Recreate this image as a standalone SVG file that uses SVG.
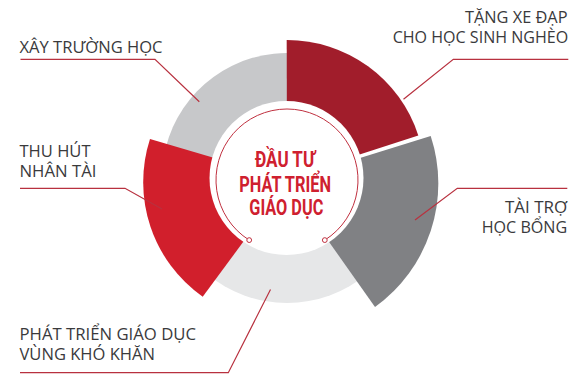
<svg xmlns="http://www.w3.org/2000/svg" width="572" height="374" viewBox="0 0 572 374">
<style>
.lbl{font-family:"Open Sans","Liberation Sans",sans-serif;font-size:16.5px;fill:#3a3a3c}
.ttl{font-family:Roboto,"Liberation Sans",sans-serif;font-size:22px;font-weight:bold;fill:#cf202f}
.ldr{fill:none;stroke:#b8313f;stroke-width:1.2}
</style>
<rect width="572" height="374" fill="#ffffff"/>
<g id="ring">
<g id="seg-xay"><path d="M287 178 L165.7 147.8 A125 125 0 0 1 295.7 53.3 Z" fill="#c7c8ca"/></g>
<g id="seg-vung"><path d="M287 178 L367.3 273.8 A125 125 0 0 1 206.7 273.8 Z" fill="#e6e7e8"/></g>
<g id="seg-tang"><path d="M287 178 L286.7 40 A138 138 0 0 1 418.3 135.4 Z" fill="#a11d2b"/></g>
<g id="seg-taitro"><path d="M286 181 L430.7 136 A152 152 0 0 1 375 307 Z" fill="#808184"/></g>
<g id="seg-thuhut"><path d="M289 180 L202.7 296.7 A140 140 0 0 1 150 139 Z" fill="#d11f2c"/></g>
</g>
<g id="center">
<circle cx="286.5" cy="178" r="77" fill="#ffffff"/>
<path d="M249.2 240.1 A71 71 0 1 1 324.8 240.1" fill="none" stroke="#c0303f" stroke-width="1"/>
<circle cx="249.2" cy="240.1" r="2.4" fill="#ffffff" stroke="#c0303f" stroke-width="1"/>
<circle cx="324.8" cy="240.1" r="2.4" fill="#ffffff" stroke="#c0303f" stroke-width="1"/>
<text class="ttl" x="255" y="166.7" textLength="60" lengthAdjust="spacingAndGlyphs">ĐẦU TƯ</text>
<text class="ttl" x="239.3" y="191.7" textLength="91.7" lengthAdjust="spacingAndGlyphs">PHÁT TRIỂN</text>
<text class="ttl" x="249.3" y="214.5" textLength="74" lengthAdjust="spacingAndGlyphs">GIÁO DỤC</text>
</g>
<g id="connectors">
<path class="ldr" d="M20.5 59.3 H155 L199.3 101.7"/>
<path class="ldr" d="M20 188.3 H125 L162 209"/>
<path class="ldr" d="M20 372.7 H228.3 L270.5 289.5"/>
<path class="ldr" d="M568.3 59.3 H453.3 L403.5 99.3"/>
<path class="ldr" d="M567.3 188.3 H457.3 L415 220"/>
</g>
<g id="label-xay"><text class="lbl" x="19.5" y="53.3" textLength="143" lengthAdjust="spacingAndGlyphs">XÂY TRƯỜNG HỌC</text></g>
<g id="label-thuhut">
<text class="lbl" x="19.5" y="157.3" textLength="71" lengthAdjust="spacingAndGlyphs">THU HÚT</text>
<text class="lbl" x="19.5" y="177.3" textLength="77" lengthAdjust="spacingAndGlyphs">NHÂN TÀI</text>
</g>
<g id="label-vung">
<text class="lbl" x="19.5" y="339.5" textLength="176.5" lengthAdjust="spacingAndGlyphs">PHÁT TRIỂN GIÁO DỤC</text>
<text class="lbl" x="19.5" y="360" textLength="135.5" lengthAdjust="spacingAndGlyphs">VÙNG KHÓ KHĂN</text>
</g>
<g id="label-tang">
<text class="lbl" x="465" y="23.3" textLength="102.5" lengthAdjust="spacingAndGlyphs">TẶNG XE ĐẠP</text>
<text class="lbl" x="392.7" y="42.7" textLength="175.5" lengthAdjust="spacingAndGlyphs">CHO HỌC SINH NGHÈO</text>
</g>
<g id="label-taitro">
<text class="lbl" x="505" y="213.3" textLength="62.3" lengthAdjust="spacingAndGlyphs">TÀI TRỢ</text>
<text class="lbl" x="481.7" y="233.3" textLength="85.5" lengthAdjust="spacingAndGlyphs">HỌC BỔNG</text>
</g>
</svg>
